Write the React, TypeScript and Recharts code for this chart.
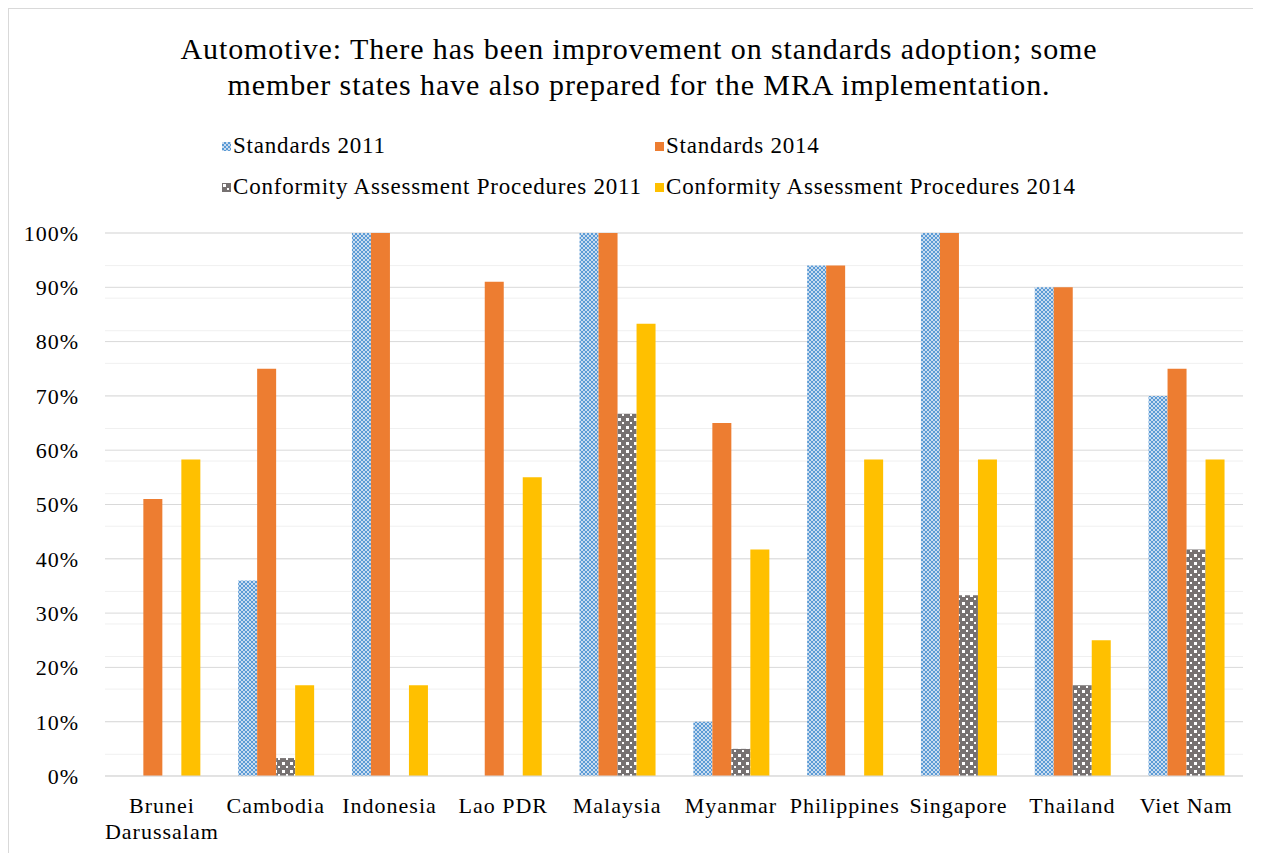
import React from 'react';
import { BarChart, Bar, XAxis, YAxis, CartesianGrid, Legend, Text } from 'recharts';

const countries = ['Brunei Darussalam', 'Cambodia', 'Indonesia', 'Lao PDR', 'Malaysia', 'Myanmar', 'Philippines', 'Singapore', 'Thailand', 'Viet Nam'];
const standards2011 = [0, 36, 100, 0, 100, 10, 94, 100, 90, 70];
const standards2014 = [51, 75, 100, 91, 100, 65, 94, 100, 90, 75];
const cap2011 = [0, 3.3, 0, 0, 66.7, 5, 0, 33.3, 16.7, 41.7];
const cap2014 = [58.3, 16.7, 16.7, 55, 83.3, 41.7, 58.3, 58.3, 25, 58.3];
const yTicks = [0, 10, 20, 30, 40, 50, 60, 70, 80, 90, 100];
const minorTicks = Array.from({ length: 51 }, (_, i) => i * 2);

const seriesNames = ['Standards 2011', 'Standards 2014', 'Conformity Assessment Procedures 2011', 'Conformity Assessment Procedures 2014'];

const data = countries.map((c, i) => ({
  name: c,
  s2011: standards2011[i],
  s2014: standards2014[i],
  c2011: cap2011[i],
  c2014: cap2014[i],
}));

const FONT = '"Liberation Serif", "Times New Roman", serif';

const Swatch = ({ kind }: { kind: number }) => {
  const fills = ['url(#patBlue)', '#ED7D31', 'url(#patGray)', '#FFC000'];
  return (
    <svg width={9} height={9} style={{ marginRight: 2, display: 'block' }}>
      <rect x={0} y={0} width={9} height={9} fill={fills[kind]} />
    </svg>
  );
};

const LegendContent = () => (
  <div style={{ fontFamily: FONT, fontSize: 23, letterSpacing: 0.8, color: '#000', position: 'relative', width: 900, height: 80 }}>
    {seriesNames.map((n, i) => (
      <div
        key={n}
        style={{
          position: 'absolute',
          left: i % 2 === 0 ? 0 : 433,
          top: i < 2 ? 0 : 41,
          whiteSpace: 'nowrap',
          display: 'flex',
          alignItems: 'center',
          lineHeight: '26px',
        }}
      >
        <Swatch kind={i} />
        <span>{n}</span>
      </div>
    ))}
  </div>
);

const XTick = (props: any) => {
  const { x, y, payload } = props;
  return (
    <Text
      x={x}
      y={y + 13}
      width={112}
      textAnchor="middle"
      verticalAnchor="start"
      fontFamily={FONT}
      fontSize={22}
      fill="#000"
      lineHeight={26}
      style={{ letterSpacing: 1.0 }}
    >
      {payload.value}
    </Text>
  );
};

export default function App() {
  return (
    <div style={{ width: 1260, height: 860, border: '1px solid #d9d9d9', boxSizing: 'border-box', position: 'relative', background: '#fff' }}>
      <div
        style={{
          position: 'absolute',
          top: 22,
          left: 0,
          width: 1260,
          textAlign: 'center',
          fontFamily: FONT,
          fontSize: 30,
          letterSpacing: 0.9,
          lineHeight: '36px',
          color: '#000',
        }}
      >
        Automotive: There has been improvement on standards adoption; some
        <br />
        member states have also prepared for the MRA implementation.
      </div>
      <BarChart
        width={1252}
        height={844}
        data={data}
        margin={{ top: 144, right: 18, bottom: 0, left: 0 }}
        barCategoryGap="17%"
        barGap={0}
      >
        <defs>
          <pattern id="patBlue" patternUnits="userSpaceOnUse" width={4} height={4}>
            <rect x={0} y={0} width={4} height={4} fill="#5B9BD5" />
            <rect x={0} y={0} width={2} height={2} fill="#C9DCF0" />
            <rect x={2} y={2} width={2} height={2} fill="#C9DCF0" />
          </pattern>
          <pattern id="patGray" patternUnits="userSpaceOnUse" width={8} height={8}>
            <rect x={0} y={0} width={8} height={8} fill="#767171" />
            <rect x={1} y={1} width={3} height={3} fill="#ffffff" />
            <rect x={5} y={5} width={2} height={2} fill="#ffffff" />
          </pattern>
        </defs>
        <CartesianGrid vertical={false} horizontalValues={minorTicks} stroke="#f0f0f0" strokeWidth={1} />
        <CartesianGrid vertical={false} horizontalValues={yTicks} stroke="#d9d9d9" strokeWidth={1} />
        <XAxis
          dataKey="name"
          tick={<XTick />}
          tickLine={false}
          axisLine={{ stroke: '#d9d9d9', strokeWidth: 1 }}
          height={77}
          interval={0}
        />
        <YAxis
          domain={[0, 100]}
          ticks={yTicks}
          tickFormatter={(v: number) => `${v}%`}
          axisLine={false}
          tickLine={false}
          tickSize={0}
          tickMargin={26}
          width={96}
          tick={{ fontFamily: FONT, fontSize: 22, fill: '#000', style: { letterSpacing: 1.0 } }}
        />
        <Legend
          verticalAlign="top"
          content={<LegendContent />}
          wrapperStyle={{ position: 'absolute', top: 124, left: 213, width: 900, height: 80 }}
        />
        <Bar dataKey="s2011" name={seriesNames[0]} fill="url(#patBlue)" isAnimationActive={false} />
        <Bar dataKey="s2014" name={seriesNames[1]} fill="#ED7D31" isAnimationActive={false} />
        <Bar dataKey="c2011" name={seriesNames[2]} fill="url(#patGray)" isAnimationActive={false} />
        <Bar dataKey="c2014" name={seriesNames[3]} fill="#FFC000" isAnimationActive={false} />
      </BarChart>
    </div>
  );
}
